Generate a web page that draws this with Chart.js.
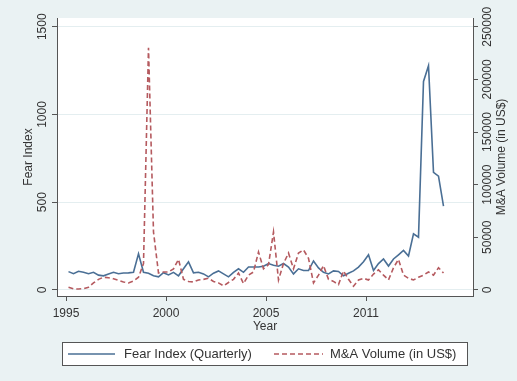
<!DOCTYPE html>
<html>
<head>
<meta charset="utf-8">
<script src="https://cdn.jsdelivr.net/npm/chart.js@4.4.1/dist/chart.umd.min.js"></script>
<style>
  html, body { margin: 0; padding: 0; background: #eaf2f3; }
  #wrap { width: 517px; height: 381px; }
</style>
</head>
<body>
<div id="wrap"><canvas id="fearChart" width="517" height="381"></canvas></div>
<script>
// quarterly series, 1995Q1 .. 2013Q4
const startYear = 1995;
const fearIndex = [
  104, 92, 106, 100, 92, 100, 84, 80, 90, 100,
  92, 96, 97, 100, 205, 100, 95, 80, 74, 98,
  85, 100, 80, 120, 160, 97, 100, 91, 74, 95,
  108, 91, 74, 100, 120, 100, 130, 130, 130, 135,
  150, 140, 135, 150, 130, 91, 120, 110, 110, 165,
  125, 100, 91, 108, 105, 80, 95, 108, 130, 160,
  200, 110, 150, 176, 136, 176, 200, 225, 193, 320,
  300, 1188, 1278, 670, 648, 477
];
const maVolume = [
  2500, 1000, 800, 1200, 2500, 6600, 10000, 12000, 11500, 10500,
  9000, 7500, 6600, 8500, 12000, 25000, 230000, 55000, 16000, 17000,
  17000, 20000, 29000, 10000, 8000, 7500, 9400, 10000, 11000, 8000,
  6600, 3800, 7000, 10000, 16000, 6000, 14000, 17000, 36000, 20000,
  24000, 55000, 9400, 25000, 35000, 20000, 35000, 38000, 30000, 6600,
  14000, 23000, 10000, 8000, 5000, 18000, 10000, 3500, 9400, 11000,
  9400, 15000, 19000, 14000, 9400, 21000, 29000, 14000, 11000, 9400,
  12000, 14000, 17000, 14000, 21000, 16000
];
const yearTicks = [1995, 2000, 2005, 2010];
const yearLabels = ['1995', '2000', '2005', '2011'];
const fearTicks = [0, 500, 1000, 1500];
const volumeTicks = [0, 50000, 100000, 150000, 200000, 250000];
const seriesNames = ['Fear Index (Quarterly)', 'M&A Volume (in US$)'];

// each quarter sits at its midpoint on the time axis
const quarterPos = i => startYear + (i + 0.5) / 4;

const BLUE = '#4a6f95';
const RED = '#b55a5f';
const INK = '#333333';
const AXIS = '#555555';
const FAMILY = '"Liberation Sans", Arial, sans-serif';

const pageBg = {
  id: 'pageBg',
  beforeDraw(chart) {
    const { ctx, chartArea: a } = chart;
    ctx.save();
    ctx.fillStyle = '#eaf2f3';
    ctx.fillRect(0, 0, chart.width, chart.height);
    ctx.fillStyle = '#ffffff';
    ctx.fillRect(a.left, a.top, a.right - a.left, a.bottom - a.top);
    ctx.restore();
  }
};

// vertical tick labels, axis titles and the boxed legend
const extras = {
  id: 'extras',
  afterDraw(chart) {
    const { ctx, scales } = chart;
    const mid = (chart.chartArea.top + chart.chartArea.bottom) / 2;
    ctx.save();
    ctx.fillStyle = INK;
    ctx.font = '12px ' + FAMILY;
    ctx.textAlign = 'center';
    ctx.textBaseline = 'middle';

    const vtext = (txt, x, y) => {
      ctx.save();
      ctx.translate(x, y);
      ctx.rotate(-Math.PI / 2);
      ctx.fillText(txt, 0, 0);
      ctx.restore();
    };
    fearTicks.forEach(v => vtext(String(v), 43, scales.y.getPixelForValue(v)));
    volumeTicks.forEach(v => vtext(String(v), 488, scales.y2.getPixelForValue(v)));
    vtext('Fear Index', 29, mid);
    vtext('M&A Volume (in US$)', 502, mid);

    // legend
    ctx.fillStyle = '#ffffff';
    ctx.fillRect(62.5, 342.5, 405, 23);
    ctx.strokeStyle = AXIS;
    ctx.lineWidth = 1;
    ctx.strokeRect(62.5, 342.5, 405, 23);
    ctx.font = '13px ' + FAMILY;
    const ly = 354;
    const items = [
      { x0: 68, x1: 115, tx: 124, ds: chart.data.datasets[0] },
      { x0: 274, x1: 323, tx: 330, ds: chart.data.datasets[1] }
    ];
    items.forEach(it => {
      ctx.beginPath();
      ctx.strokeStyle = it.ds.borderColor;
      ctx.lineWidth = it.ds.borderWidth;
      ctx.setLineDash(it.ds.borderDash || []);
      ctx.moveTo(it.x0, ly);
      ctx.lineTo(it.x1, ly);
      ctx.stroke();
      ctx.setLineDash([]);
      ctx.fillStyle = INK;
      ctx.textAlign = 'left';
      ctx.fillText(it.ds.label, it.tx, ly);
    });
    ctx.restore();
  }
};

const ctx = document.getElementById('fearChart').getContext('2d');

new Chart(ctx, {
  type: 'line',
  data: {
    datasets: [{
      label: seriesNames[0],
      data: fearIndex.map((v, i) => ({ x: quarterPos(i), y: v })),
      borderColor: BLUE,
      borderWidth: 1.6,
      pointRadius: 0,
      tension: 0,
      yAxisID: 'y',
      order: 1
    }, {
      label: seriesNames[1],
      data: maVolume.map((v, i) => ({ x: quarterPos(i), y: v })),
      borderColor: RED,
      borderWidth: 1.6,
      borderDash: [5, 3],
      pointRadius: 0,
      tension: 0,
      yAxisID: 'y2',
      order: 0
    }]
  },
  options: {
    responsive: false,
    animation: false,
    devicePixelRatio: 1,
    layout: { padding: { top: 18, left: 0, right: 0, bottom: 0 } },
    plugins: {
      legend: { display: false },
      tooltip: { enabled: false }
    },
    scales: {
      x: {
        type: 'linear',
        min: 1994.55,
        max: 2015.35,
        afterBuildTicks: s => { s.ticks = yearTicks.map(v => ({ value: v })); },
        afterFit: s => { s.height = 85; },
        ticks: {
          autoSkip: false,
          maxRotation: 0,
          padding: 5,
          color: INK,
          font: { family: FAMILY, size: 12 },
          callback: v => yearLabels[yearTicks.indexOf(v)]
        },
        grid: { drawOnChartArea: false, drawTicks: true, tickLength: 5, tickColor: AXIS },
        border: { color: AXIS, width: 1 },
        title: {
          display: true,
          text: 'Year',
          color: INK,
          font: { family: FAMILY, size: 12 },
          padding: { top: 0, bottom: 47 }
        }
      },
      y: {
        position: 'left',
        min: -35,
        max: 1550,
        afterBuildTicks: s => { s.ticks = fearTicks.map(v => ({ value: v })); },
        afterFit: s => { s.width = 57; },
        ticks: { display: false },
        grid: { color: '#e4eef0', lineWidth: 1, drawTicks: true, tickLength: 5, tickColor: AXIS },
        border: { color: AXIS, width: 1 }
      },
      y2: {
        position: 'right',
        min: -5833,
        max: 258333,
        afterBuildTicks: s => { s.ticks = volumeTicks.map(v => ({ value: v })); },
        afterFit: s => { s.width = 44; },
        ticks: { display: false },
        grid: { drawOnChartArea: false, drawTicks: true, tickLength: 5, tickColor: AXIS },
        border: { color: AXIS, width: 1 }
      }
    }
  },
  plugins: [pageBg, extras]
});
</script>
</body>
</html>
